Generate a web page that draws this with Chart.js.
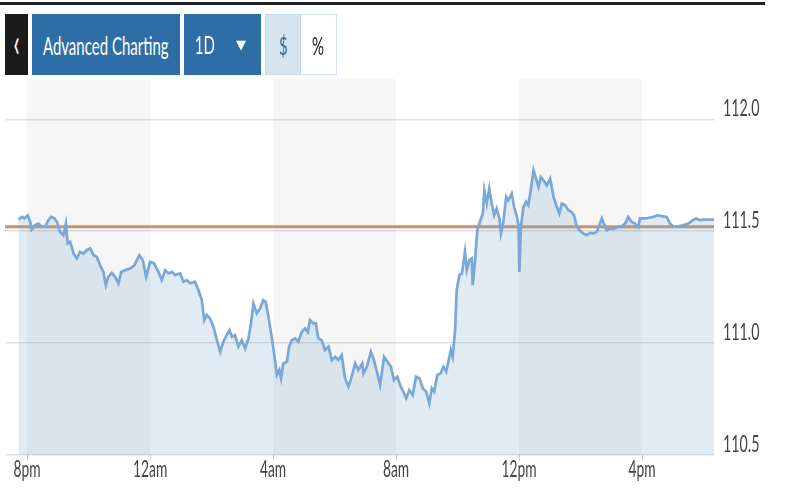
<!DOCTYPE html>
<html>
<head>
<meta charset="utf-8">
<script src="https://cdn.jsdelivr.net/npm/chart.js@4.4.1/dist/chart.umd.min.js"></script>
<style>
  body { margin: 0; background: #fff; }
  #wrap { position: relative; width: 800px; height: 500px; overflow: hidden; }
  #topbar { position: absolute; left: 0; top: 2px; width: 765px; height: 3px; background: #222; }
  .btn { position: absolute; top: 14px; height: 61px; box-sizing: border-box; display: flex;
         align-items: center; justify-content: center; color: #fff; }
  .t { display: inline-block; white-space: nowrap; transform: scaleX(0.6);
       font-family: Lato, sans-serif; font-size: 25px; }
  #back { left: 5px; width: 23px; background: #1b1b1b; }
  #back .t { font-size: 40px; margin-top: -6px; }
  #adv { left: 32px; width: 148px; background: #2e6ea6; }
  #range { left: 184px; width: 77px; background: #2e6ea6; }
  #range .t { position: absolute; top: 15px; left: 4px; }
  #range .arrow { position: absolute; left: 52px; top: 23px; font-family: 'DejaVu Sans', sans-serif; font-size: 13px; }
  #usd { left: 265px; width: 36px; background: #d6e4ef; color: #2e6ea6; border: 1px solid #c9d9e6; }
  #pct { left: 301px; width: 36px; background: #fff; color: #222; border: 1px solid #d6e4ef; border-left: none; }
  canvas { position: absolute; left: 0; top: 0; }
</style>
</head>
<body>
<div id="wrap">
  <canvas id="myChart" width="800" height="500"></canvas>
  <div id="topbar"></div>
  <div class="btn" id="back"><span class="t">&lsaquo;</span></div>
  <div class="btn" id="adv"><span class="t">Advanced Charting</span></div>
  <div class="btn" id="range"><span class="t">1D</span><span class="arrow">&#9660;</span></div>
  <div class="btn" id="usd"><span class="t">$</span></div>
  <div class="btn" id="pct"><span class="t">%</span></div>
</div>
<script>
// hours since 8pm
const hours = [
  -0.28, -0.17, -0.09, 0.02, 0.10, 0.15, 0.26, 0.37, 0.48, 0.59, 0.69, 0.78, 0.89, 0.97,
  1.07, 1.18, 1.26, 1.32, 1.40, 1.51, 1.62, 1.72, 1.83, 1.94, 2.05, 2.16, 2.27, 2.37,
  2.48, 2.56, 2.64, 2.75, 2.86, 2.97, 3.06, 3.19, 3.35, 3.49, 3.65, 3.76, 3.87, 4.00,
  4.13, 4.27, 4.38, 4.49, 4.60, 4.71, 4.81, 4.98, 5.08, 5.19, 5.30, 5.46, 5.57, 5.68,
  5.76, 5.84, 5.95, 6.06, 6.17, 6.28, 6.38, 6.49, 6.58, 6.66, 6.76, 6.87, 6.98, 7.09,
  7.20, 7.28, 7.36, 7.47, 7.58, 7.68, 7.76, 7.85, 7.96, 8.04, 8.12, 8.20, 8.26, 8.33,
  8.45, 8.52, 8.61, 8.72, 8.82, 8.93, 9.04, 9.13, 9.20, 9.31, 9.39, 9.47, 9.58, 9.69,
  9.80, 9.91, 10.02, 10.12, 10.23, 10.34, 10.45, 10.54, 10.67, 10.77, 10.90, 10.94, 11.05,
  11.18, 11.28, 11.39, 11.48, 11.61, 11.72, 11.83, 11.93, 12.04, 12.15, 12.26, 12.33,
  12.43, 12.54, 12.65, 12.76, 12.87, 12.98, 13.08, 13.16, 13.24, 13.34, 13.45, 13.54,
  13.63, 13.70, 13.78, 13.84, 13.92, 13.97, 14.06, 14.14, 14.24, 14.30, 14.38, 14.46,
  14.49, 14.57, 14.64, 14.73, 14.82, 14.87, 14.95, 15.03, 15.11, 15.19, 15.27, 15.36,
  15.41, 15.49, 15.58, 15.65, 15.76, 15.84, 15.93, 15.98, 16.01, 16.06, 16.14, 16.23,
  16.30, 16.38, 16.47, 16.55, 16.63, 16.71, 16.79, 16.90, 17.01, 17.12, 17.23, 17.31,
  17.39, 17.50, 17.60, 17.71, 17.79, 17.88, 17.98, 18.09, 18.20, 18.31, 18.42, 18.53,
  18.63, 18.69, 18.76, 18.85, 18.96, 19.07, 19.18, 19.34, 19.45, 19.55, 19.66, 19.77,
  19.88, 19.93, 20.04, 20.20, 20.37, 20.50, 20.64, 20.80, 20.91, 21.02, 21.18, 21.34,
  21.51, 21.65, 21.76, 21.89, 21.99, 22.21, 22.34
];
const prices = [
  111.552, 111.564, 111.557, 111.571, 111.542, 111.508, 111.527, 111.534, 111.519, 111.522, 111.549, 111.564, 111.557, 111.542,
  111.497, 111.482, 111.534, 111.445, 111.452, 111.400, 111.378, 111.408, 111.400, 111.415, 111.423, 111.393, 111.385, 111.348,
  111.318, 111.259, 111.296, 111.314, 111.296, 111.267, 111.318, 111.326, 111.333, 111.348, 111.393, 111.371, 111.296, 111.363,
  111.356, 111.318, 111.281, 111.326, 111.311, 111.318, 111.304, 111.311, 111.274, 111.281, 111.267, 111.274, 111.237, 111.192,
  111.103, 111.125, 111.110, 111.073, 111.013, 110.961, 111.006, 111.036, 111.058, 111.028, 111.036, 110.984, 111.013, 110.976,
  111.021, 111.088, 111.177, 111.133, 111.155, 111.192, 111.184, 111.117, 111.021, 110.946, 110.857, 110.880, 110.842, 110.909,
  110.917, 110.984, 111.013, 111.021, 111.006, 111.050, 111.066, 111.050, 111.103, 111.088, 111.088, 111.021, 111.013, 110.969,
  110.984, 110.924, 110.939, 110.924, 110.946, 110.842, 110.805, 110.842, 110.909, 110.880, 110.909, 110.865, 110.894,
  110.961, 110.924, 110.865, 110.813, 110.939, 110.917, 110.894, 110.835, 110.850, 110.805, 110.776, 110.753,
  110.790, 110.768, 110.850, 110.842, 110.798, 110.783, 110.731, 110.798, 110.783, 110.857, 110.865, 110.894,
  110.872, 110.917, 110.969, 110.939, 111.058, 111.237, 111.304, 111.311, 111.408, 111.326, 111.371, 111.378,
  111.259, 111.371, 111.504, 111.542, 111.579, 111.683, 111.624, 111.691, 111.624, 111.571, 111.601, 111.557,
  111.490, 111.542, 111.653, 111.638, 111.668, 111.608, 111.564, 111.527, 111.318, 111.519, 111.608, 111.631,
  111.616, 111.683, 111.772, 111.735, 111.698, 111.742, 111.728, 111.705, 111.735, 111.653, 111.608, 111.579,
  111.624, 111.616, 111.594, 111.586, 111.571, 111.519, 111.504, 111.490, 111.482, 111.492, 111.490, 111.497,
  111.534, 111.557, 111.534, 111.504, 111.512, 111.508, 111.519, 111.522, 111.534, 111.564, 111.542, 111.534,
  111.519, 111.557, 111.557, 111.559, 111.564, 111.571, 111.567, 111.564, 111.534, 111.519, 111.522, 111.527,
  111.534, 111.549, 111.557, 111.549, 111.552, 111.552, 111.552
];
const prevClose = 111.52;
const tickHours = [0, 4, 8, 12, 16, 20];
const tickLabels = ['8pm', '12am', '4am', '8am', '12pm', '4pm'];
const priceTicks = [110.5, 111.0, 111.5, 112.0];
const shadedBands = [[0, 4], [8, 12], [16, 20]];
const xMin = -0.72, xMax = 22.34;
const yMin = 110.5, yMax = 112.18;

// light grey time bands behind everything
const bandPlugin = {
  id: 'bands',
  beforeDraw(chart) {
    const c = chart.ctx, a = chart.chartArea, xs = chart.scales.x;
    c.save();
    c.fillStyle = '#f6f6f6';
    shadedBands.forEach(b => {
      const x1 = xs.getPixelForValue(b[0]);
      const x2 = Math.min(xs.getPixelForValue(b[1]), a.right);
      c.fillRect(x1, a.top, x2 - x1, a.bottom - a.top);
    });
    c.restore();
  }
};

// narrow tick labels (text squeezed horizontally like the original)
const labelPlugin = {
  id: 'narrowLabels',
  afterDraw(chart) {
    const c = chart.ctx, a = chart.chartArea, xs = chart.scales.x, ys = chart.scales.y;
    c.save();
    c.font = '23px Lato, sans-serif';
    c.fillStyle = '#444';
    c.textBaseline = 'alphabetic';
    priceTicks.forEach(v => {
      c.save();
      c.translate(a.right + 9, ys.getPixelForValue(v) - 3);
      c.scale(0.62, 1);
      c.textAlign = 'left';
      c.fillText(v.toFixed(1), 0, 0);
      c.restore();
    });
    tickHours.forEach((h, i) => {
      c.save();
      c.translate(xs.getPixelForValue(h), a.bottom + 22);
      c.scale(0.6, 1);
      c.textAlign = 'center';
      c.fillText(tickLabels[i], 0, 0);
      c.restore();
    });
    c.restore();
  }
};

const series = hours.map((h, i) => ({ x: h, y: prices[i] }));

const data = {
  datasets: [{
    data: series,
    borderColor: 'rgb(122, 167, 213)',
    backgroundColor: 'rgba(120, 165, 205, 0.22)',
    borderWidth: 2.7,
    fill: 'start',
    pointRadius: 0,
    tension: 0,
    order: 1
  }, {
    data: [{ x: xMin, y: prevClose }, { x: xMax, y: prevClose }],
    borderColor: 'rgb(201, 146, 106)',
    borderWidth: 3,
    pointRadius: 0,
    fill: false,
    order: 2
  }]
};

const config = {
  type: 'line',
  data,
  plugins: [bandPlugin, labelPlugin],
  options: {
    responsive: false,
    animation: false,
    devicePixelRatio: 1,
    layout: { padding: { top: 79, left: 5, right: 0, bottom: 0 } },
    plugins: { legend: { display: false }, tooltip: { enabled: false } },
    scales: {
      x: {
        type: 'linear',
        min: xMin,
        max: xMax,
        afterBuildTicks(scale) { scale.ticks = tickHours.map(v => ({ value: v })); },
        afterFit(scale) { scale.height = 45; },
        border: { display: false },
        grid: { drawOnChartArea: false, drawTicks: true, tickLength: 5, color: '#cfcfcf', lineWidth: 1 },
        ticks: { display: false }
      },
      y: {
        position: 'right',
        min: yMin,
        max: yMax,
        afterBuildTicks(scale) { scale.ticks = priceTicks.map(v => ({ value: v })); },
        afterFit(scale) { scale.width = 86; },
        border: { display: false },
        grid: { drawTicks: false, color: 'rgba(0,0,0,0.12)', lineWidth: 1.5 },
        ticks: { display: false }
      }
    }
  }
};

const myChart = new Chart(document.getElementById('myChart'), config);
</script>
</body>
</html>
